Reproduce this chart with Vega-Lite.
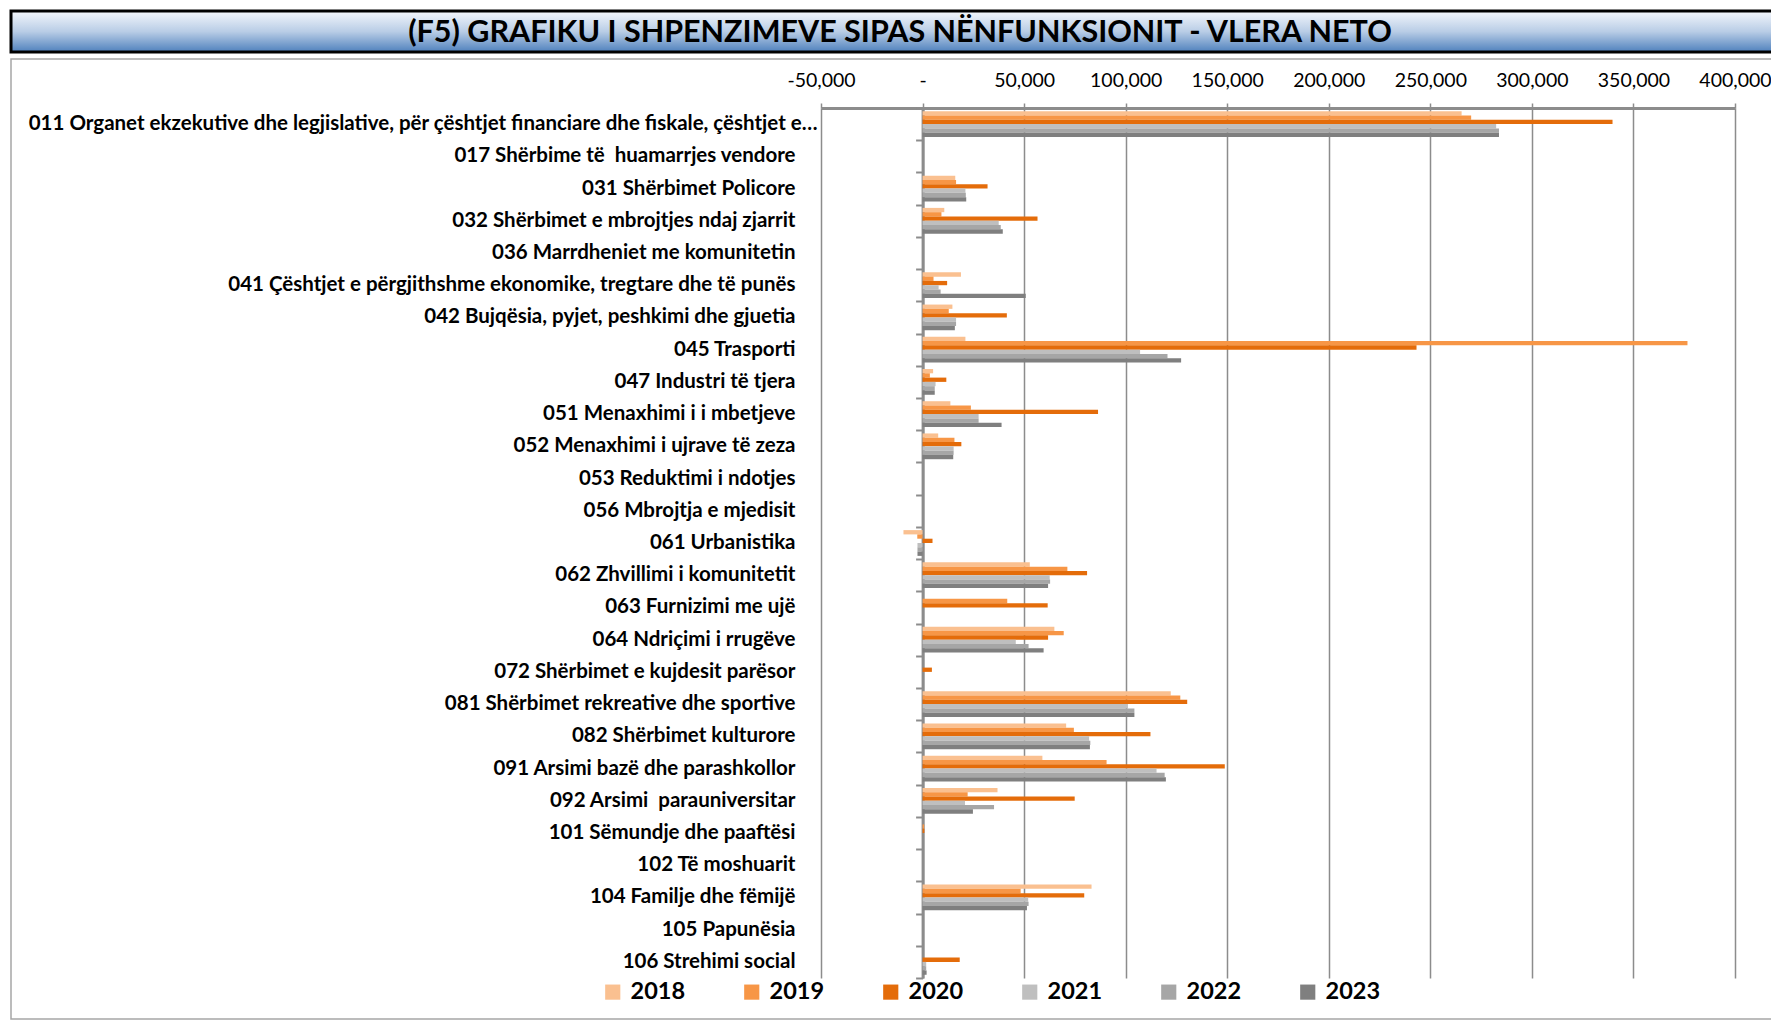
{
  "$schema": "https://vega.github.io/schema/vega-lite/v6.json",
  "padding": {"left": 9, "top": 9, "right": 0, "bottom": 0},
  "background": "white",
  "config": {"font": "Lato", "concat": {"spacing": 4}},
  "vconcat": [
    {
      "width": 1762,
      "height": 41,
      "view": {
        "fill": {"gradient": "linear", "x1": 0, "y1": 0, "x2": 0, "y2": 1,
          "stops": [{"offset": 0, "color": "#F4F7FC"}, {"offset": 0.5, "color": "#B9CDE6"}, {"offset": 1, "color": "#4F81BD"}]},
        "stroke": "black",
        "strokeWidth": 3
      },
      "data": {"values": [{"titulli": "(F5) GRAFIKU I SHPENZIMEVE SIPAS NËNFUNKSIONIT - VLERA NETO"}]},
      "mark": {"type": "text", "font": "Lato", "fontWeight": "bold", "fontSize": 30.5, "dx": 8, "dy": 1, "color": "black"},
      "encoding": {"text": {"field": "titulli"}}
    },
    {
      "width": 1761,
      "height": 960,
      "view": {"stroke": "#A6A6A6", "strokeWidth": 1.5, "fill": "white"},
      "data": {"values": [
        {"n": "011 Organet ekzekutive dhe legjislative, për çështjet financiare dhe fiskale, çështjet e…", "viti": "2018", "vlera": 265400},
        {"n": "011 Organet ekzekutive dhe legjislative, për çështjet financiare dhe fiskale, çështjet e…", "viti": "2019", "vlera": 270100},
        {"n": "011 Organet ekzekutive dhe legjislative, për çështjet financiare dhe fiskale, çështjet e…", "viti": "2020", "vlera": 339700},
        {"n": "011 Organet ekzekutive dhe legjislative, për çështjet financiare dhe fiskale, çështjet e…", "viti": "2021", "vlera": 282400},
        {"n": "011 Organet ekzekutive dhe legjislative, për çështjet financiare dhe fiskale, çështjet e…", "viti": "2022", "vlera": 283800},
        {"n": "011 Organet ekzekutive dhe legjislative, për çështjet financiare dhe fiskale, çështjet e…", "viti": "2023", "vlera": 283800},
        {"n": "031 Shërbimet Policore", "viti": "2018", "vlera": 16100},
        {"n": "031 Shërbimet Policore", "viti": "2019", "vlera": 16500},
        {"n": "031 Shërbimet Policore", "viti": "2020", "vlera": 32000},
        {"n": "031 Shërbimet Policore", "viti": "2021", "vlera": 21100},
        {"n": "031 Shërbimet Policore", "viti": "2022", "vlera": 21300},
        {"n": "031 Shërbimet Policore", "viti": "2023", "vlera": 21500},
        {"n": "032 Shërbimet e mbrojtjes ndaj zjarrit", "viti": "2018", "vlera": 10700},
        {"n": "032 Shërbimet e mbrojtjes ndaj zjarrit", "viti": "2019", "vlera": 9300},
        {"n": "032 Shërbimet e mbrojtjes ndaj zjarrit", "viti": "2020", "vlera": 56600},
        {"n": "032 Shërbimet e mbrojtjes ndaj zjarrit", "viti": "2021", "vlera": 37500},
        {"n": "032 Shërbimet e mbrojtjes ndaj zjarrit", "viti": "2022", "vlera": 38500},
        {"n": "032 Shërbimet e mbrojtjes ndaj zjarrit", "viti": "2023", "vlera": 39500},
        {"n": "041 Çështjet e përgjithshme ekonomike, tregtare dhe të punës", "viti": "2018", "vlera": 18900},
        {"n": "041 Çështjet e përgjithshme ekonomike, tregtare dhe të punës", "viti": "2019", "vlera": 5400},
        {"n": "041 Çështjet e përgjithshme ekonomike, tregtare dhe të punës", "viti": "2020", "vlera": 12100},
        {"n": "041 Çështjet e përgjithshme ekonomike, tregtare dhe të punës", "viti": "2021", "vlera": 7900},
        {"n": "041 Çështjet e përgjithshme ekonomike, tregtare dhe të punës", "viti": "2022", "vlera": 8900},
        {"n": "041 Çështjet e përgjithshme ekonomike, tregtare dhe të punës", "viti": "2023", "vlera": 50800},
        {"n": "042 Bujqësia, pyjet, peshkimi dhe gjuetia", "viti": "2018", "vlera": 14700},
        {"n": "042 Bujqësia, pyjet, peshkimi dhe gjuetia", "viti": "2019", "vlera": 12900},
        {"n": "042 Bujqësia, pyjet, peshkimi dhe gjuetia", "viti": "2020", "vlera": 41500},
        {"n": "042 Bujqësia, pyjet, peshkimi dhe gjuetia", "viti": "2021", "vlera": 16500},
        {"n": "042 Bujqësia, pyjet, peshkimi dhe gjuetia", "viti": "2022", "vlera": 16500},
        {"n": "042 Bujqësia, pyjet, peshkimi dhe gjuetia", "viti": "2023", "vlera": 15900},
        {"n": "045 Trasporti", "viti": "2018", "vlera": 21100},
        {"n": "045 Trasporti", "viti": "2019", "vlera": 376600},
        {"n": "045 Trasporti", "viti": "2020", "vlera": 243200},
        {"n": "045 Trasporti", "viti": "2021", "vlera": 107100},
        {"n": "045 Trasporti", "viti": "2022", "vlera": 120600},
        {"n": "045 Trasporti", "viti": "2023", "vlera": 127300},
        {"n": "047 Industri të tjera", "viti": "2018", "vlera": 5200},
        {"n": "047 Industri të tjera", "viti": "2019", "vlera": 3600},
        {"n": "047 Industri të tjera", "viti": "2020", "vlera": 11700},
        {"n": "047 Industri të tjera", "viti": "2021", "vlera": 6400},
        {"n": "047 Industri të tjera", "viti": "2022", "vlera": 6000},
        {"n": "047 Industri të tjera", "viti": "2023", "vlera": 6000},
        {"n": "051 Menaxhimi i i mbetjeve", "viti": "2018", "vlera": 13700},
        {"n": "051 Menaxhimi i i mbetjeve", "viti": "2019", "vlera": 23800},
        {"n": "051 Menaxhimi i i mbetjeve", "viti": "2020", "vlera": 86400},
        {"n": "051 Menaxhimi i i mbetjeve", "viti": "2021", "vlera": 27600},
        {"n": "051 Menaxhimi i i mbetjeve", "viti": "2022", "vlera": 27600},
        {"n": "051 Menaxhimi i i mbetjeve", "viti": "2023", "vlera": 38900},
        {"n": "052 Menaxhimi i ujrave të zeza", "viti": "2018", "vlera": 7700},
        {"n": "052 Menaxhimi i ujrave të zeza", "viti": "2019", "vlera": 15700},
        {"n": "052 Menaxhimi i ujrave të zeza", "viti": "2020", "vlera": 19100},
        {"n": "052 Menaxhimi i ujrave të zeza", "viti": "2021", "vlera": 15300},
        {"n": "052 Menaxhimi i ujrave të zeza", "viti": "2022", "vlera": 15300},
        {"n": "052 Menaxhimi i ujrave të zeza", "viti": "2023", "vlera": 15100},
        {"n": "061 Urbanistika", "viti": "2018", "vlera": -9400},
        {"n": "061 Urbanistika", "viti": "2019", "vlera": -2600},
        {"n": "061 Urbanistika", "viti": "2020", "vlera": 4900},
        {"n": "061 Urbanistika", "viti": "2021", "vlera": -2500},
        {"n": "061 Urbanistika", "viti": "2022", "vlera": -2500},
        {"n": "061 Urbanistika", "viti": "2023", "vlera": -2500},
        {"n": "062 Zhvillimi i komunitetit", "viti": "2018", "vlera": 52800},
        {"n": "062 Zhvillimi i komunitetit", "viti": "2019", "vlera": 71300},
        {"n": "062 Zhvillimi i komunitetit", "viti": "2020", "vlera": 81000},
        {"n": "062 Zhvillimi i komunitetit", "viti": "2021", "vlera": 62600},
        {"n": "062 Zhvillimi i komunitetit", "viti": "2022", "vlera": 62800},
        {"n": "062 Zhvillimi i komunitetit", "viti": "2023", "vlera": 61800},
        {"n": "063 Furnizimi me ujë", "viti": "2019", "vlera": 41700},
        {"n": "063 Furnizimi me ujë", "viti": "2020", "vlera": 61600},
        {"n": "064 Ndriçimi i rrugëve", "viti": "2018", "vlera": 64900},
        {"n": "064 Ndriçimi i rrugëve", "viti": "2019", "vlera": 69500},
        {"n": "064 Ndriçimi i rrugëve", "viti": "2020", "vlera": 61800},
        {"n": "064 Ndriçimi i rrugëve", "viti": "2021", "vlera": 45900},
        {"n": "064 Ndriçimi i rrugëve", "viti": "2022", "vlera": 52200},
        {"n": "064 Ndriçimi i rrugëve", "viti": "2023", "vlera": 59600},
        {"n": "072 Shërbimet e kujdesit parësor\u00a0", "viti": "2020", "vlera": 4600},
        {"n": "081 Shërbimet rekreative dhe sportive", "viti": "2018", "vlera": 122200},
        {"n": "081 Shërbimet rekreative dhe sportive", "viti": "2019", "vlera": 126900},
        {"n": "081 Shërbimet rekreative dhe sportive", "viti": "2020", "vlera": 130300},
        {"n": "081 Shërbimet rekreative dhe sportive", "viti": "2021", "vlera": 101100},
        {"n": "081 Shërbimet rekreative dhe sportive", "viti": "2022", "vlera": 104300},
        {"n": "081 Shërbimet rekreative dhe sportive", "viti": "2023", "vlera": 104300},
        {"n": "082 Shërbimet kulturore", "viti": "2018", "vlera": 70700},
        {"n": "082 Shërbimet kulturore", "viti": "2019", "vlera": 74500},
        {"n": "082 Shërbimet kulturore", "viti": "2020", "vlera": 112200},
        {"n": "082 Shërbimet kulturore", "viti": "2021", "vlera": 82000},
        {"n": "082 Shërbimet kulturore", "viti": "2022", "vlera": 82600},
        {"n": "082 Shërbimet kulturore", "viti": "2023", "vlera": 82400},
        {"n": "091 Arsimi bazë dhe parashkollor", "viti": "2018", "vlera": 59000},
        {"n": "091 Arsimi bazë dhe parashkollor", "viti": "2019", "vlera": 90600},
        {"n": "091 Arsimi bazë dhe parashkollor", "viti": "2020", "vlera": 148800},
        {"n": "091 Arsimi bazë dhe parashkollor", "viti": "2021", "vlera": 115200},
        {"n": "091 Arsimi bazë dhe parashkollor", "viti": "2022", "vlera": 119200},
        {"n": "091 Arsimi bazë dhe parashkollor", "viti": "2023", "vlera": 119800},
        {"n": "092 Arsimi\u00a0 parauniversitar", "viti": "2018", "vlera": 36900},
        {"n": "092 Arsimi\u00a0 parauniversitar", "viti": "2019", "vlera": 22200},
        {"n": "092 Arsimi\u00a0 parauniversitar", "viti": "2020", "vlera": 74900},
        {"n": "092 Arsimi\u00a0 parauniversitar", "viti": "2021", "vlera": 20900},
        {"n": "092 Arsimi\u00a0 parauniversitar", "viti": "2022", "vlera": 35200},
        {"n": "092 Arsimi\u00a0 parauniversitar", "viti": "2023", "vlera": 24800},
        {"n": "101 Sëmundje dhe paaftësi", "viti": "2019", "vlera": 800},
        {"n": "101 Sëmundje dhe paaftësi", "viti": "2020", "vlera": 900},
        {"n": "104 Familje dhe fëmijë", "viti": "2018", "vlera": 83200},
        {"n": "104 Familje dhe fëmijë", "viti": "2019", "vlera": 48300},
        {"n": "104 Familje dhe fëmijë", "viti": "2020", "vlera": 79600},
        {"n": "104 Familje dhe fëmijë", "viti": "2021", "vlera": 52000},
        {"n": "104 Familje dhe fëmijë", "viti": "2022", "vlera": 52200},
        {"n": "104 Familje dhe fëmijë", "viti": "2023", "vlera": 51400},
        {"n": "106 Strehimi social", "viti": "2020", "vlera": 18300},
        {"n": "106 Strehimi social", "viti": "2021", "vlera": 1800},
        {"n": "106 Strehimi social", "viti": "2022", "vlera": 1800},
        {"n": "106 Strehimi social", "viti": "2023", "vlera": 2000}
      ]},
      "layer": [
        {
          "mark": {"type": "bar"},
          "encoding": {
            "y": {
              "field": "n", "type": "nominal", "sort": null,
              "scale": {
                "domain": [
                  "011 Organet ekzekutive dhe legjislative, për çështjet financiare dhe fiskale, çështjet e…",
                  "017 Shërbime të\u00a0 huamarrjes vendore",
                  "031 Shërbimet Policore",
                  "032 Shërbimet e mbrojtjes ndaj zjarrit",
                  "036 Marrdheniet me komunitetin",
                  "041 Çështjet e përgjithshme ekonomike, tregtare dhe të punës",
                  "042 Bujqësia, pyjet, peshkimi dhe gjuetia",
                  "045 Trasporti",
                  "047 Industri të tjera",
                  "051 Menaxhimi i i mbetjeve",
                  "052 Menaxhimi i ujrave të zeza",
                  "053 Reduktimi i ndotjes",
                  "056 Mbrojtja e mjedisit",
                  "061 Urbanistika",
                  "062 Zhvillimi i komunitetit",
                  "063 Furnizimi me ujë",
                  "064 Ndriçimi i rrugëve",
                  "072 Shërbimet e kujdesit parësor\u00a0",
                  "081 Shërbimet rekreative dhe sportive",
                  "082 Shërbimet kulturore",
                  "091 Arsimi bazë dhe parashkollor",
                  "092 Arsimi\u00a0 parauniversitar",
                  "101 Sëmundje dhe paaftësi",
                  "102 Të moshuarit",
                  "104 Familje dhe fëmijë",
                  "105 Papunësia",
                  "106 Strehimi social"
                ],
                "range": [49, 919], "paddingInner": 0, "paddingOuter": 0
              },
              "axis": {
                "orient": "left", "offset": -790, "title": null, "domain": false, "ticks": false, "tickSize": 0,
                "labelPadding": {"condition": {"test": "indexof(datum.value, '011') === 0", "value": -16}, "value": 6},
                "labelFont": "Lato", "labelFontWeight": "bold", "labelFontSize": 20.5,
                "labelColor": "black", "labelLimit": 900, "grid": false
              }
            },
            "yOffset": {
              "field": "viti", "type": "nominal",
              "scale": {"domain": ["2018", "2019", "2020", "2021", "2022", "2023"], "paddingInner": 0, "paddingOuter": 0.75}
            },
            "x": {
              "field": "vlera", "type": "quantitative",
              "scale": {"domain": [-50000, 400000], "range": [810, 1724], "nice": false},
              "axis": {
                "orient": "top", "offset": -49, "title": null,
                "values": [-50000, 0, 50000, 100000, 150000, 200000, 250000, 300000, 350000, 400000],
                "labelExpr": "datum.value == 0 ? '-' : (datum.value < 0 ? '-' + format(-datum.value, ',') : format(datum.value, ','))",
                "labelFont": "Lato", "labelFontSize": 19.5, "labelColor": "black", "labelPadding": 13, "labelFlush": false,
                "grid": true, "gridColor": "#8C8C8C", "gridWidth": 1.5,
                "domain": true, "domainColor": "#8C8C8C", "domainWidth": 3,
                "ticks": true, "tickSize": 5, "tickColor": "#8C8C8C", "tickWidth": 1.5
              }
            },
            "color": {
              "field": "viti", "type": "nominal",
              "scale": {"domain": ["2018", "2019", "2020", "2021", "2022", "2023"],
                        "range": ["#FAC090", "#F79646", "#E46C0A", "#BFBFBF", "#A6A6A6", "#7F7F7F"]},
              "legend": {
                "orient": "none", "legendX": 590, "legendY": 969, "direction": "horizontal", "columns": 6,
                "title": null, "symbolType": "square", "symbolSize": 230, "symbolStrokeWidth": 0,
                "labelFont": "Lato", "labelFontSize": 23.5, "labelFontWeight": "bold", "labelColor": "black",
                "labelOffset": 6, "columnPadding": 54, "padding": 0
              }
            }
          }
        },
        {
          "mark": {"type": "point", "opacity": 0},
          "encoding": {
            "y": {
              "field": "n", "type": "nominal", "sort": null,
              "axis": {
                "orient": "left", "offset": -911.6, "title": null, "labels": false,
                "domain": true, "domainColor": "#8C8C8C", "domainWidth": 3,
                "ticks": true, "tickBand": "extent", "tickSize": 7, "tickColor": "#8C8C8C", "tickWidth": 2,
                "grid": false
              }
            }
          }
        }
      ],
      "resolve": {"scale": {"y": "shared", "x": "shared"}, "axis": {"y": "independent"}}
    }
  ]
}
